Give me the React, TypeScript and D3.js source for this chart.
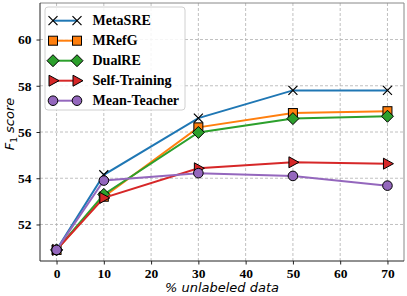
import { useEffect, useRef } from 'react'
import * as d3 from 'd3'

const xValues = [0, 10, 30, 50, 70]
const xTicks = [0, 10, 20, 30, 40, 50, 60, 70]
const yTicks = [52, 54, 56, 58, 60]

const seriesNames = ['MetaSRE', 'MRefG', 'DualRE', 'Self-Training', 'Mean-Teacher']
const seriesColors = ['#1f77b4', '#ff7f0e', '#2ca02c', '#d62728', '#9467bd']
const seriesMarkers = ['x', 'square', 'diamond', 'triangle', 'circle']

const metaSRE = [50.9, 54.15, 56.6, 57.8, 57.8]
const mRefG = [50.9, 53.2, 56.2, 56.82, 56.9]
const dualRE = [50.9, 53.3, 55.98, 56.58, 56.68]
const selfTraining = [50.9, 53.15, 54.43, 54.69, 54.63]
const meanTeacher = [50.9, 53.9, 54.22, 54.1, 53.68]

const seriesValues = [metaSRE, mRefG, dualRE, selfTraining, meanTeacher]

const SERIF = 'Liberation Serif'

export default function App() {
  const svgRef = useRef<SVGSVGElement>(null)

  useEffect(() => {
    if (!svgRef.current) return
    const svg = d3.select(svgRef.current)
    svg.selectAll('*').remove()

    const left = 40, right = 404, top = 3, bottom = 261
    const x = d3.scaleLinear().domain([-3.5, 73.5]).range([left, right])
    const y = d3.scaleLinear().domain([50.42, 61.58]).range([bottom, top])

    // grid
    const grid = svg.append('g')
    grid.selectAll('line.gx').data(xTicks).enter().append('line')
      .attr('x1', d => x(d)).attr('x2', d => x(d))
      .attr('y1', top).attr('y2', bottom)
      .attr('stroke', '#b0b0b0').attr('stroke-width', 0.8).attr('stroke-dasharray', '3,2')
    grid.selectAll('line.gy').data(yTicks).enter().append('line')
      .attr('y1', d => y(d)).attr('y2', d => y(d))
      .attr('x1', left).attr('x2', right)
      .attr('stroke', '#b0b0b0').attr('stroke-width', 0.8).attr('stroke-dasharray', '3,2')

    // frame
    svg.append('line').attr('x1', left).attr('x2', right).attr('y1', top).attr('y2', top)
      .attr('stroke', '#888').attr('stroke-width', 1)
    svg.append('line').attr('x1', right).attr('x2', right).attr('y1', top).attr('y2', bottom)
      .attr('stroke', '#888').attr('stroke-width', 1)

    // axes
    const xAxis = svg.append('g').attr('transform', `translate(0,${bottom})`)
      .call(d3.axisBottom(x).tickValues(xTicks).tickSize(3.5).tickPadding(4))
    const yAxis = svg.append('g').attr('transform', `translate(${left},0)`)
      .call(d3.axisLeft(y).tickValues(yTicks).tickSize(3.5).tickPadding(5))
    for (const a of [xAxis, yAxis]) {
      a.attr('font-family', SERIF).attr('font-size', 13.5).attr('font-weight', 'bold')
      a.select('.domain').attr('stroke', '#222').attr('stroke-width', 1)
      a.selectAll('.tick line').attr('stroke', '#222')
      a.selectAll('.tick text').attr('fill', '#000')
    }
    xAxis.select('.domain').attr('d', `M${left},0H${right}`)
    yAxis.select('.domain').attr('d', `M0,${top}V${bottom}`)

    const drawMarker = (g: any, type: string, cx: number, cy: number, color: string) => {
      if (type === 'x') {
        g.append('path').attr('d', `M${cx - 4.5},${cy - 4.5}L${cx + 4.5},${cy + 4.5}M${cx - 4.5},${cy + 4.5}L${cx + 4.5},${cy - 4.5}`)
          .attr('stroke', '#000').attr('stroke-width', 1.2)
      } else if (type === 'square') {
        g.append('rect').attr('x', cx - 4.5).attr('y', cy - 4.5).attr('width', 9).attr('height', 9)
          .attr('fill', color).attr('stroke', '#000').attr('stroke-width', 1)
      } else if (type === 'diamond') {
        g.append('path').attr('d', `M${cx},${cy - 6}L${cx + 6},${cy}L${cx},${cy + 6}L${cx - 6},${cy}Z`)
          .attr('fill', color).attr('stroke', '#000').attr('stroke-width', 1)
      } else if (type === 'triangle') {
        g.append('path').attr('d', `M${cx + 6},${cy}L${cx - 4},${cy - 5.5}L${cx - 4},${cy + 5.5}Z`)
          .attr('fill', color).attr('stroke', '#000').attr('stroke-width', 1)
      } else {
        g.append('circle').attr('cx', cx).attr('cy', cy).attr('r', 4.8)
          .attr('fill', color).attr('stroke', '#000').attr('stroke-width', 1)
      }
    }

    const line = d3.line<number>().x((_, i) => x(xValues[i])).y(d => y(d))
    seriesValues.forEach((vals, si) => {
      const g = svg.append('g')
      g.append('path').datum(vals).attr('d', line)
        .attr('fill', 'none').attr('stroke', seriesColors[si]).attr('stroke-width', 2)
      vals.forEach((v, i) => drawMarker(g, seriesMarkers[si], x(xValues[i]), y(v), seriesColors[si]))
    })

    // legend
    const lg = svg.append('g')
    lg.append('rect').attr('x', 45).attr('y', 7).attr('width', 140).attr('height', 103)
      .attr('rx', 3).attr('fill', 'white').attr('fill-opacity', 0.85)
      .attr('stroke', '#d0d0d0').attr('stroke-width', 1)
    seriesNames.forEach((name, i) => {
      const ly = 20.7 + i * 20
      lg.append('line').attr('x1', 53).attr('x2', 77).attr('y1', ly).attr('y2', ly)
        .attr('stroke', seriesColors[i]).attr('stroke-width', 2)
      drawMarker(lg, seriesMarkers[i], 53, ly, seriesColors[i])
      drawMarker(lg, seriesMarkers[i], 77, ly, seriesColors[i])
      lg.append('text').attr('x', 92.5).attr('y', ly + 4.7)
        .attr('font-family', SERIF).attr('font-weight', 'bold')
        .attr('font-size', 14).attr('fill', '#000').text(name)
    })

    // axis labels
    svg.append('text').attr('x', (left + right) / 2).attr('y', 292)
      .attr('text-anchor', 'middle').attr('font-family', 'DejaVu Sans')
      .attr('font-style', 'italic').attr('font-size', 13).text('% unlabeled data')

    const yl = svg.append('text')
      .attr('transform', `translate(14,${(top + bottom) / 2 - 8}) rotate(-90)`)
      .attr('text-anchor', 'middle').attr('font-family', 'DejaVu Sans')
      .attr('font-style', 'italic').attr('font-size', 13)
    yl.append('tspan').text('F')
    yl.append('tspan').attr('font-size', 9).attr('font-style', 'normal').attr('dy', 3).text('1')
    yl.append('tspan').attr('dy', -3).text(' score')
  }, [])

  return (
    <svg ref={svgRef} width={407} height={296}
      style={{ position: 'absolute', left: 0, top: 0, background: 'white' }} />
  )
}
